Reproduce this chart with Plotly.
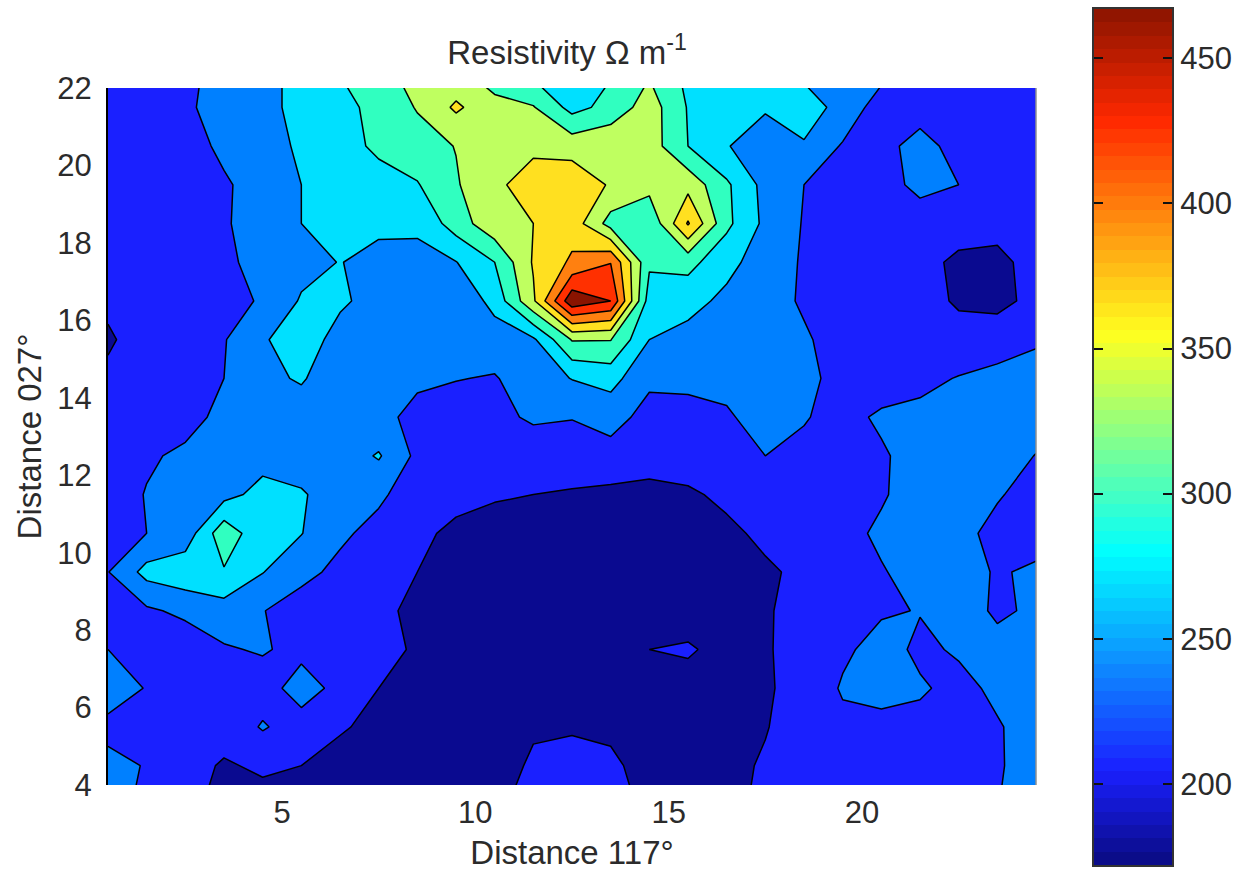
import numpy as np
import plotly.graph_objects as go

W, H = 1240, 871

x_dist = [0.5 + i for i in range(25)]
y_dist = [22.5, 21.5, 20.5, 19.5, 18.5, 17.5, 16.5, 15.5, 14.5, 13.5, 12.5, 11.5,
          10.5, 9.5, 8.5, 7.5, 6.5, 5.5, 4.5, 3.5]

r_22_5 = [215, 218, 227, 246, 256, 274, 297, 317, 337, 330, 305, 283, 275, 291, 320, 287, 275, 277, 259, 242, 248, 219, 215, 215, 212]
r_21_5 = [215, 218, 229, 250, 258, 272, 285, 305, 327, 360, 335, 327, 285, 305, 340, 293, 275, 267, 275, 258, 218, 217, 215, 215, 212]
r_20_5 = [215, 218, 225, 240, 257, 268, 285, 300, 313, 326, 336, 350, 343, 350, 340, 295, 266, 255, 263, 232, 222, 250, 220, 215, 212]
r_19_5 = [212, 216, 222, 232, 245, 265, 275, 285, 293, 322, 350, 366, 375, 352, 335, 345, 300, 255, 235, 225, 218, 246, 235, 218, 212]
r_18_5 = [212, 214, 220, 232, 248, 265, 272, 272, 270, 309, 346, 355, 372, 313, 300, 388, 302, 258, 233, 222, 215, 214, 216, 214, 208]
r_17_5 = [211, 213, 220, 232, 240, 255, 266, 255, 257, 264, 295, 358, 390, 414, 300, 305, 274, 250, 232, 218, 213, 213, 200, 198, 215]
r_16_5 = [208, 212, 218, 225, 238, 268, 268, 258, 250, 240, 275, 350, 467, 445, 280, 275, 258, 245, 232, 215, 210, 208, 204, 195, 215]
r_15_5 = [203, 212, 220, 233, 263, 275, 258, 250, 248, 245, 250, 260, 327, 326, 265, 255, 248, 245, 238, 225, 215, 210, 208, 225, 232]
r_14_5 = [208, 212, 222, 235, 258, 268, 246, 240, 238, 236, 233, 250, 266, 276, 240, 240, 242, 245, 242, 226, 218, 225, 237, 241, 245]
r_13_5 = [210, 214, 222, 245, 250, 250, 246, 240, 230, 222, 226, 240, 236, 245, 226, 228, 232, 245, 237, 225, 240, 245, 250, 250, 250]
r_12_5 = [212, 230, 242, 248, 254, 250, 248, 268, 228, 215, 212, 215, 222, 225, 220, 222, 228, 235, 228, 220, 231, 248, 250, 250, 234]
r_11_5 = [215, 237, 245, 255, 275, 268, 250, 240, 220, 212, 207, 205, 202, 198, 195, 200, 212, 225, 225, 222, 232, 248, 248, 238, 222]
r_10_5 = [222, 235, 247, 315, 272, 266, 240, 226, 210, 200, 197, 190, 185, 182, 180, 182, 198, 212, 222, 226, 240, 250, 245, 225, 222]
r_9_5 = [234, 275, 285, 292, 266, 243, 228, 218, 205, 195, 185, 178, 178, 176, 175, 178, 185, 200, 212, 220, 233, 245, 248, 232, 240]
r_8_5 = [222, 230, 242, 252, 236, 222, 215, 210, 200, 188, 180, 175, 172, 174, 175, 176, 182, 203, 212, 218, 232, 236, 250, 230, 240]
r_7_5 = [235, 222, 215, 232, 238, 226, 220, 210, 203, 190, 180, 175, 175, 180, 205, 212, 185, 203, 213, 230, 245, 230, 238, 245, 245]
r_6_5 = [245, 234, 215, 218, 220, 250, 225, 205, 195, 185, 180, 178, 178, 178, 180, 182, 190, 202, 214, 238, 250, 238, 228, 240, 245]
r_5_5 = [230, 220, 212, 213, 238, 220, 207, 200, 190, 185, 182, 201, 203, 200, 188, 180, 185, 204, 214, 228, 222, 228, 222, 233, 245]
r_4_5 = [240, 234, 212, 203, 208, 205, 198, 192, 188, 182, 190, 210, 212, 210, 195, 188, 200, 207, 214, 218, 220, 218, 218, 232, 248]
r_3_5 = [240, 232, 212, 197, 198, 195, 192, 188, 182, 178, 200, 214, 218, 212, 201, 192, 200, 209, 214, 218, 220, 218, 218, 234, 252]

resistivity = [r_22_5, r_21_5, r_20_5, r_19_5, r_18_5, r_17_5, r_16_5, r_15_5, r_14_5, r_13_5,
               r_12_5, r_11_5, r_10_5, r_9_5, r_8_5, r_7_5, r_6_5, r_5_5, r_4_5, r_3_5]

band_colors = ['#0A0A90', '#1A20FF', '#0080FF', '#00E0FF', '#30FFC0',
               '#BFFF60', '#FFE020', '#FF8010', '#FF3000', '#8A1400']

x_ticks = [5, 10, 15, 20]
y_ticks = [4, 6, 8, 10, 12, 14, 16, 18, 20, 22]
cbar_ticks = [200, 250, 300, 350, 400, 450]
cbar_min, cbar_max = 172, 467

jet = [[0, '#0A0A80'], [0.111, '#1A20FF'], [0.365, '#00FFFF'],
       [0.62, '#FFFF20'], [0.87, '#FF2800'], [1, '#8A1400']]

FONT = 'Liberation Sans'
TXT = '#2B2B2B'

fig = go.Figure()
fig.add_trace(go.Contour(
    x=x_dist, y=y_dist, z=resistivity,
    autocontour=False,
    contours=dict(start=205, end=445, size=30, coloring='fill', showlines=True),
    line=dict(color='black', width=1.5, smoothing=0),
    colorscale=[[k / 9, c] for k, c in enumerate(band_colors)],
    showscale=False, hoverinfo='skip',
))

cbar_levels = cbar_min + (cbar_max - cbar_min) * (np.arange(64) + 0.5) / 64
fig.add_trace(go.Heatmap(
    x=[0], y=cbar_levels, z=[[v] for v in cbar_levels],
    zmin=cbar_min, zmax=cbar_max, colorscale=jet, showscale=False,
    xaxis='x2', yaxis='y2', hoverinfo='skip',
))

fig.update_layout(
    width=W, height=H,
    margin=dict(l=0, r=0, t=0, b=0, autoexpand=False),
    paper_bgcolor='white', plot_bgcolor='white',
    font=dict(family=FONT, size=31, color=TXT),
    title=dict(text='Resistivity Ω m<sup>-1</sup>', x=567 / W, xanchor='center',
               y=1 - 52 / H, yanchor='middle', font=dict(size=33, color=TXT)),
    xaxis=dict(domain=[108 / W, 1036 / W], range=[0.5, 24.5], tickvals=x_ticks,
               ticks='', showgrid=False, zeroline=False, showline=False, ticklabelstandoff=6,
               title=dict(text='Distance 117°', standoff=14, font=dict(size=33, color=TXT))),
    yaxis=dict(domain=[(H - 785) / H, (H - 88) / H], range=[4, 22], tickvals=y_ticks,
               ticks='', showgrid=False, zeroline=False, showline=True, linecolor='black', linewidth=2,
               ticklabelstandoff=8,
               title=dict(text='Distance 027°', standoff=6, font=dict(size=33, color=TXT))),
    xaxis2=dict(domain=[1094 / W, 1172 / W], range=[-0.5, 0.5], anchor='y2',
                showticklabels=False, ticks='', showgrid=False, zeroline=False,
                showline=True, mirror=True, linecolor='#333333', linewidth=2),
    yaxis2=dict(domain=[(H - 865) / H, (H - 9) / H], range=[cbar_min, cbar_max], anchor='x2',
                side='right', tickvals=cbar_ticks, ticks='inside', ticklen=9, tickwidth=2,
                tickcolor='#111111', showgrid=False, zeroline=False,
                showline=True, mirror='ticks', linecolor='#333333', linewidth=2),
    shapes=[dict(type='line', xref='paper', yref='paper', x0=1036 / W, x1=1036 / W,
                 y0=(H - 785) / H, y1=(H - 88) / H, line=dict(color='#909090', width=1.5))],
)

fig.write_html("out.html", config=dict(displayModeBar=False),
               post_script="document.body.style.margin='0';")
